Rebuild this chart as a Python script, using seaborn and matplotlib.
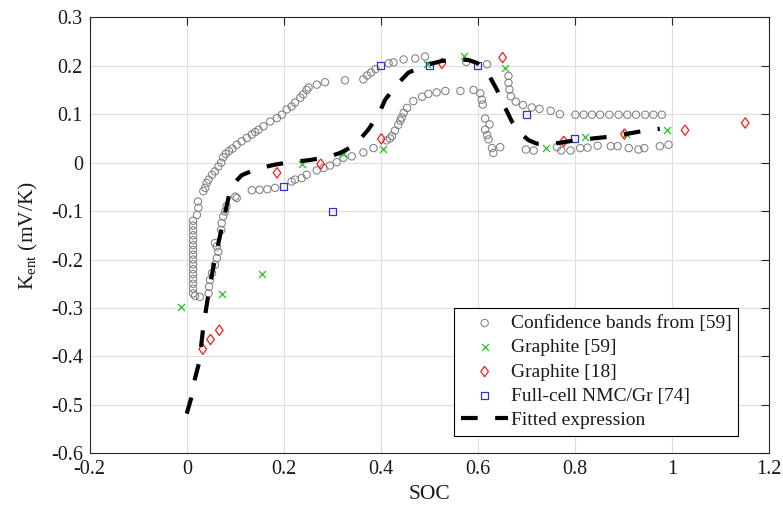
"""Entropic coefficient vs SOC: confidence bands, literature points and fitted curve."""

import matplotlib
matplotlib.use("Agg")
import matplotlib.pyplot as plt
import numpy as np
import seaborn as sns

# ---- data ----
# upper confidence band (circles)
UPPER_X = [0.013] * 16 + [
    0.021, 0.024, 0.023, 0.034, 0.038, 0.041, 0.045, 0.052, 0.058, 0.065,
    0.071, 0.075, 0.080, 0.087, 0.094, 0.103, 0.113, 0.124, 0.134, 0.141,
    0.148, 0.158, 0.172, 0.186, 0.196, 0.206, 0.216, 0.223, 0.234, 0.240,
    0.247, 0.251, 0.268, 0.285, 0.326, 0.364, 0.372, 0.380, 0.389, 0.416,
    0.426, 0.447, 0.471, 0.491, 0.576, 0.619,
    0.663, 0.663, 0.665, 0.668, 0.678, 0.693, 0.711, 0.727, 0.750, 0.769,
    0.801, 0.818, 0.835, 0.852, 0.871, 0.890, 0.908, 0.926, 0.945, 0.962, 0.979,
]
UPPER_Y = [
    -0.27, -0.26, -0.25, -0.24, -0.23, -0.22, -0.21, -0.20, -0.19, -0.18,
    -0.17, -0.16, -0.15, -0.14, -0.13, -0.12,
    -0.108, -0.093, -0.080, -0.059, -0.052, -0.042, -0.035, -0.025, -0.018, -0.008,
    0.000, 0.011, 0.018, 0.024, 0.029, 0.037, 0.044, 0.051, 0.058, 0.063,
    0.068, 0.075, 0.085, 0.092, 0.099, 0.110, 0.116, 0.124, 0.134, 0.141,
    0.150, 0.155, 0.161, 0.166, 0.170, 0.172, 0.180, 0.186, 0.193, 0.205,
    0.207, 0.213, 0.215, 0.219, 0.208, 0.203,
    0.179, 0.165, 0.151, 0.137, 0.126, 0.119, 0.114, 0.111, 0.107, 0.100,
    0.099, 0.099, 0.099, 0.099, 0.099, 0.099, 0.099, 0.099, 0.099, 0.099, 0.099,
]

# lower confidence band (circles)
LOWER_X = [
    0.017, 0.027, 0.045, 0.046, 0.048, 0.052, 0.058, 0.062, 0.065, 0.062,
    0.058, 0.071, 0.072, 0.075, 0.079, 0.082, 0.100, 0.103, 0.134, 0.150,
    0.166, 0.182, 0.216, 0.223, 0.237, 0.247, 0.268, 0.282, 0.295, 0.309,
    0.323, 0.340, 0.364, 0.385, 0.412, 0.419, 0.423, 0.429, 0.436, 0.440,
    0.443, 0.447, 0.454, 0.467, 0.485, 0.498, 0.515, 0.533, 0.564, 0.591,
    0.605, 0.608, 0.610, 0.615, 0.624, 0.615, 0.619, 0.622, 0.629, 0.632,
    0.646, 0.699, 0.715, 0.763, 0.772, 0.791, 0.811, 0.826, 0.847, 0.874,
    0.888, 0.911, 0.931, 0.943, 0.975, 0.993,
]
LOWER_Y = [
    -0.275, -0.277, -0.270, -0.256, -0.242, -0.228, -0.211, -0.197, -0.184, -0.173,
    -0.166, -0.139, -0.125, -0.111, -0.101, -0.090, -0.070, -0.073, -0.057, -0.056,
    -0.055, -0.052, -0.039, -0.035, -0.032, -0.025, -0.016, -0.011, -0.006, 0.001,
    0.010, 0.013, 0.021, 0.030, 0.046, 0.050, 0.055, 0.066, 0.078, 0.087,
    0.093, 0.103, 0.113, 0.127, 0.136, 0.142, 0.145, 0.148, 0.148, 0.150,
    0.143, 0.130, 0.120, 0.091, 0.079, 0.068, 0.057, 0.048, 0.030, 0.020,
    0.032, 0.027, 0.025, 0.032, 0.025, 0.025, 0.030, 0.031, 0.035, 0.034,
    0.034, 0.030, 0.027, 0.030, 0.034, 0.037,
]

GR59_X = [-0.012, 0.072, 0.155, 0.237, 0.322, 0.404, 0.495, 0.572, 0.655, 0.740, 0.821, 0.906, 0.990]
GR59_Y = [-0.299, -0.272, -0.230, -0.003, 0.017, 0.028, 0.203, 0.220, 0.196, 0.030, 0.052, 0.060, 0.068]

GR18_X = [0.033, 0.049, 0.067, 0.186, 0.276, 0.401, 0.526, 0.651, 0.777, 0.902, 1.027, 1.151]
GR18_Y = [-0.385, -0.365, -0.346, -0.021, -0.003, 0.049, 0.205, 0.217, 0.044, 0.059, 0.067, 0.082]

NMC_X = [0.2, 0.3, 0.4, 0.5, 0.6, 0.7, 0.8]
NMC_Y = [-0.05, -0.10, 0.20, 0.20, 0.20, 0.10, 0.05]

FIT_X = [
    0.000, 0.010, 0.017, 0.026, 0.034, 0.040, 0.048, 0.060, 0.072, 0.089,
    0.100, 0.113, 0.144, 0.182, 0.213, 0.251, 0.289, 0.316, 0.335, 0.351,
    0.374, 0.395, 0.409, 0.433, 0.457, 0.481, 0.500, 0.526, 0.560, 0.580,
    0.598, 0.622, 0.639, 0.653, 0.670, 0.687, 0.705, 0.722, 0.756, 0.794,
    0.828, 0.866, 0.900, 0.938, 0.975,
]
FIT_Y = [
    -0.518, -0.483, -0.445, -0.411, -0.340, -0.301, -0.250, -0.190, -0.135, -0.059,
    -0.040, -0.026, -0.013, -0.004, 0.001, 0.005, 0.011, 0.020, 0.030, 0.041,
    0.068, 0.099, 0.130, 0.161, 0.186, 0.196, 0.203, 0.210, 0.213, 0.212,
    0.206, 0.182, 0.151, 0.120, 0.085, 0.061, 0.046, 0.039, 0.039, 0.045,
    0.049, 0.053, 0.058, 0.065, 0.070,
]

XTICKS = [-0.2, 0.0, 0.2, 0.4, 0.6, 0.8, 1.0, 1.2]
XTICK_LABELS = ["-0.2", "0", "0.2", "0.4", "0.6", "0.8", "1", "1.2"]
YTICKS = [-0.6, -0.5, -0.4, -0.3, -0.2, -0.1, 0.0, 0.1, 0.2, 0.3]
YTICK_LABELS = ["-0.6", "-0.5", "-0.4", "-0.3", "-0.2", "-0.1", "0", "0.1", "0.2", "0.3"]

LABELS = ["Confidence bands from [59]", "Graphite [59]", "Graphite [18]",
          "Full-cell NMC/Gr [74]", "Fitted expression"]

GREY = "#808080"
GREEN = "#1ec81e"
RED = "#ff1a1a"
BLUE = "#2a35e0"

sns.set_theme(style="whitegrid")
plt.rcParams["font.family"] = ["Liberation Serif", "DejaVu Serif"]
plt.rcParams["mathtext.fontset"] = "custom"
plt.rcParams["mathtext.rm"] = "Liberation Serif"
plt.rcParams["mathtext.it"] = "Liberation Serif:italic"
plt.rcParams["axes.unicode_minus"] = False

DIAMOND = [(0, 1), (0.72, 0), (0, -1), (-0.72, 0), (0, 1)]

fig = plt.figure(figsize=(7.83, 5.14), dpi=100)
ax = fig.add_axes([0.1146, 0.1181, 0.8675, 0.8482])

sns.scatterplot(x=UPPER_X + LOWER_X, y=UPPER_Y + LOWER_Y, marker="o", s=28,
                facecolor="none", edgecolor=GREY, linewidth=0.75,
                label=LABELS[0], ax=ax, zorder=3)
sns.scatterplot(x=GR59_X, y=GR59_Y, marker="x", s=25, color=GREEN,
                linewidth=0.9, label=LABELS[1], ax=ax, zorder=4)
sns.scatterplot(x=GR18_X, y=GR18_Y, marker=DIAMOND, s=57,
                facecolor="none", edgecolor=RED, linewidth=0.9,
                label=LABELS[2], ax=ax, zorder=4)
sns.scatterplot(x=NMC_X, y=NMC_Y, marker="s", s=26,
                facecolor="none", edgecolor=BLUE, linewidth=0.9,
                label=LABELS[3], ax=ax, zorder=4)
sns.lineplot(x=FIT_X, y=FIT_Y, color="black", linewidth=3.0,
             linestyle=(0, (4.0, 4.2)), estimator=None, sort=False,
             label=LABELS[4], ax=ax, zorder=5)

ax.set_xlim(-0.2, 1.2)
ax.set_ylim(-0.6, 0.3)
ax.set_xticks(XTICKS)
ax.set_xticklabels(XTICK_LABELS)
ax.set_yticks(YTICKS)
ax.set_yticklabels(YTICK_LABELS)
ax.tick_params(direction="in", top=True, right=True, length=6, width=0.8,
               color="#262626", labelsize=14.5, labelcolor="#1a1a1a", pad=5)
ax.grid(True, color="#dedede", linewidth=0.8)
ax.set_axisbelow(True)
for sp in ax.spines.values():
    sp.set_color("#262626")
    sp.set_linewidth(0.8)

ax.set_xlabel("SOC", fontsize=15.5, color="#1a1a1a", labelpad=4)
ax.set_ylabel(r"K$_{\mathrm{ent}}$ (mV/K)", fontsize=15.5, color="#1a1a1a", labelpad=8)

handles, labels = ax.get_legend_handles_labels()
leg = ax.legend(handles, labels, loc="lower right", bbox_to_anchor=(0.955, 0.040),
                borderaxespad=0, fontsize=14, handlelength=2.4, handletextpad=0.15,
                borderpad=0.35, labelspacing=0.34, fancybox=False, framealpha=1,
                edgecolor="black")
leg.get_frame().set_linewidth(0.8)
for t in leg.get_texts():
    t.set_color("#1a1a1a")

fig.savefig("out.png", dpi=100)
